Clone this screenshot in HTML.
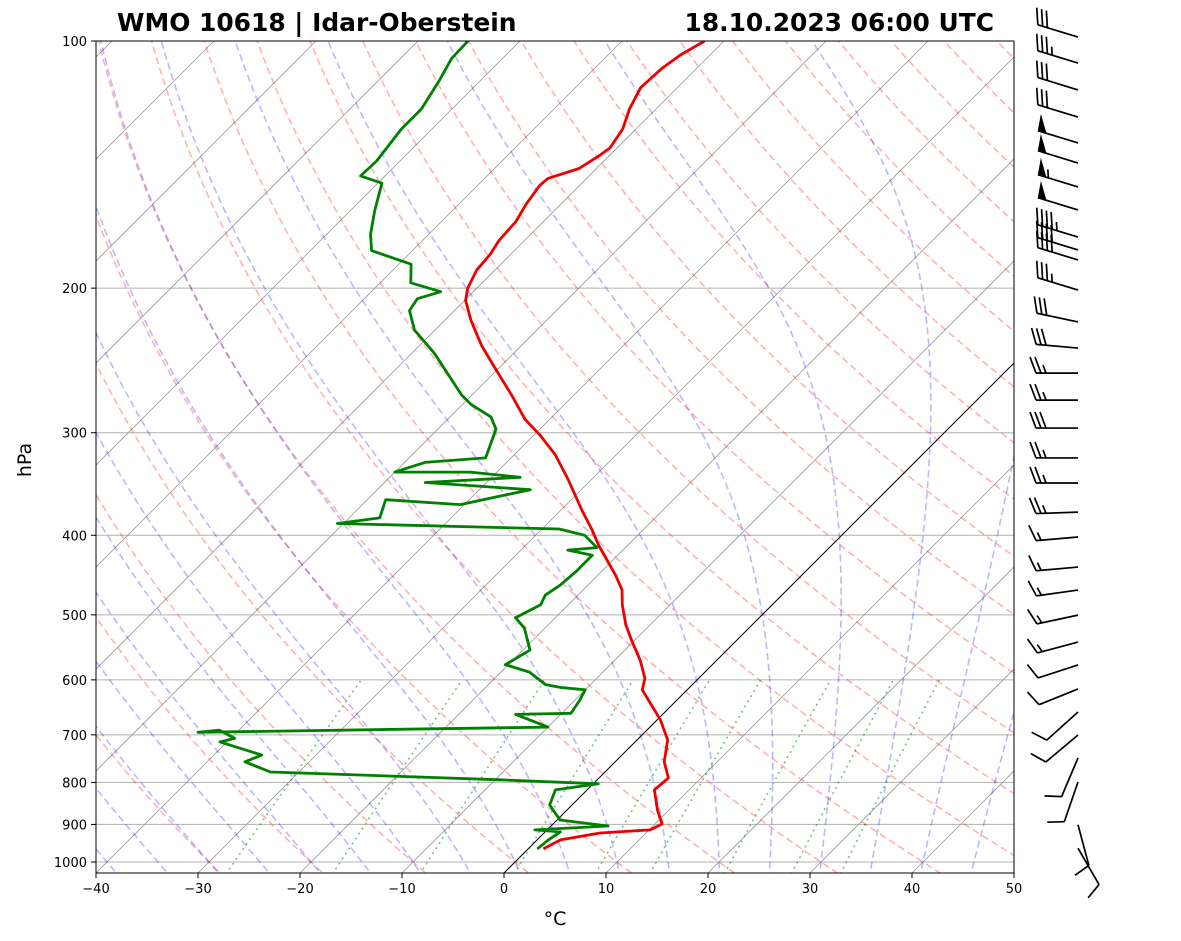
<!DOCTYPE html>
<html><head><meta charset="utf-8">
<style>
body{margin:0;background:#fff;}
svg{display:block;font-family:"DejaVu Sans","Liberation Sans",sans-serif;}
</style></head>
<body>
<svg id="chart" width="1181" height="941" viewBox="0 0 1181 941" xmlns="http://www.w3.org/2000/svg">
<defs><clipPath id="plotclip"><rect x="96" y="41" width="918" height="832"/></clipPath></defs>
<rect x="0" y="0" width="1181" height="941" fill="#fff"/>
<text x="117" y="31" font-size="24.9" font-weight="bold">WMO 10618 | Idar-Oberstein</text>
<text x="994" y="31" font-size="24.9" font-weight="bold" text-anchor="end">18.10.2023 06:00 UTC</text>
<g id="bg" clip-path="url(#plotclip)"></g>
<g id="series" clip-path="url(#plotclip)"></g>
<rect x="96" y="41" width="918" height="832" fill="none" stroke="#000" stroke-width="1"/>
<g id="axes"></g>
<g id="barbs"></g>
<text x="555" y="925" font-size="19" text-anchor="middle">°C</text>
<text x="0" y="0" font-size="19" text-anchor="middle" transform="translate(31,460) rotate(-90)">hPa</text>
</svg>
<script>
// ---- data ----
const tempP = [964,940,922,914,899,865,817,790,755,710,671,644,617,597,568,537,514,486,466,447,411,394,373,342,319,302,289,270,252,235,219,207,200,190,182,175,166,158,150,147,143,138,135,128,121,114,108,104,100];
const tempT = [1.5,2.3,5.5,10.1,10.7,8.9,6.6,6.8,4.8,3.0,0.3,-2.0,-4.4,-5.3,-7.5,-10.3,-12.4,-14.7,-16.2,-18.3,-22.9,-25,-27.9,-32.3,-36,-39.4,-42.4,-46.1,-50,-53.9,-57.4,-59.9,-60.9,-61.8,-62,-62.5,-62.7,-63.4,-63.9,-63.8,-61.7,-61,-60.7,-61.3,-62.6,-63.6,-63.4,-62.9,-61.9];
const dewP = [964,940,919,914,904,889,852,817,803,794,777,755,741,714,707,691,695,685,661,659,636,617,613,608,587,575,552,519,504,486,473,460,443,423,417,414,400,393,387,381,362,367,352,345,340,335,335,326,322,297,287,277,270,240,225,213,206,202,197,187,180,172,161,149,146,140,128,121,112,105,100];
const dewT = [0.9,1.1,1.5,-1.2,5.6,0.3,-2.2,-3.1,0.5,-9.5,-32.8,-36.3,-35.3,-40.7,-39.6,-41.9,-43.8,-10,-14.4,-9.1,-9.5,-10,-12.6,-14.4,-17.2,-20.3,-19.3,-22,-23.9,-22.7,-23.2,-22.7,-22.5,-22.5,-25.4,-22.8,-25.2,-28.3,-50.6,-47,-48.2,-40.4,-35,-46,-37.2,-42.6,-50,-48,-42.5,-44.3,-46,-49.2,-51,-57.8,-62,-64.4,-64.8,-63.2,-67,-68.8,-74,-75.7,-77.6,-79.6,-82.4,-82.3,-83,-83,-84,-85,-85.1];
const barbP = [98.9,106.4,114.7,123.8,133.1,140.8,150.6,160.6,173.3,179.7,184.8,201.1,219.9,236.6,253.8,273.8,296.1,322,345.4,374.8,401.9,437.3,466.4,500.4,539.6,575.4,615.5,656.6,700.3,746.9,799,901,962];
const barbSpd = [30,35,30,30,50,50,55,50,45,40,40,35,30,30,25,25,30,25,25,25,15,15,15,15,15,10,10,10,10,10,10,10,10];
const barbDir = [287,287,287,287,287,287,287,287,287,287,287,287,282,275,270,270,270,270,270,268,265,265,262,258,255,252,248,228,230,203,199,165,150];
const xTicks = [-40,-30,-20,-10,0,10,20,30,40,50];
const yTicks = [100,200,300,400,500,600,700,800,900,1000];

// ---- scales ----
const X0=96,X1=1014,Y0=41,YB=873;
const pxPerC=(X1-X0)/90;
function yOf(p){return Y0+(Math.log10(p)-2)*821;}
function xOf(T,p){const y=yOf(p);return 504+T*pxPerC+(YB-y);}
const NS="http://www.w3.org/2000/svg";
function mk(tag,attrs,parent){const e=document.createElementNS(NS,tag);for(const k in attrs)e.setAttribute(k,attrs[k]);parent.appendChild(e);return e;}
const bg=document.getElementById('bg'),ser=document.getElementById('series'),ax=document.getElementById('axes'),bb=document.getElementById('barbs');
function path(pts){return pts.map((q,i)=>(i?'L':'M')+q[0].toFixed(1)+','+q[1].toFixed(1)).join('');}
const pgrid=[];for(let p=1050;p>=99;p-=5)pgrid.push(p);

for(const p of yTicks){
  const l=mk('line',{x1:X0,x2:X1,y1:yOf(p),y2:yOf(p),stroke:'#b0b0b0','stroke-width':1},bg);
  
  
}
for(let T=-150;T<=50;T+=10){
  const l=mk('path',{d:path([[xOf(T,1050),yOf(1050)],[xOf(T,99),yOf(99)]]),stroke:T===0?'#000':'#999','stroke-width':T===0?1:0.8,fill:'none'},bg);
  
  
}
for(let t0=-30;t0<=200;t0+=10){
  const pts=pgrid.map(p=>[xOf((t0+273.15)*Math.pow(p/1000,0.2857)-273.15,p),yOf(p)]);
  const l=mk('path',{d:path(pts),stroke:'rgba(255,0,0,0.3)','stroke-width':1.6,'stroke-dasharray':'7,4',fill:'none'},bg);
  
  
}
function es(Tc){return 6.112*Math.exp(17.67*Tc/(Tc+243.5));}
function moistLapse(Tk,p){const Rd=287.04,cp=1005.7,Lv=2.501e6,eps=0.622;const rs=eps*es(Tk-273.15)/(p-es(Tk-273.15));
  return (Rd*Tk+Lv*rs)/(cp+Lv*Lv*rs*eps/(Rd*Tk*Tk))/p;}
for(let t0=-40;t0<=50;t0+=5){
  let Tk=t0+273.15,p=1000;const up=[],dn=[];
  up.push([xOf(Tk-273.15,p),yOf(p)]);
  while(p>100){const dp=-2;Tk+=moistLapse(Tk,p)*dp;p+=dp;up.push([xOf(Tk-273.15,p),yOf(p)]);}
  Tk=t0+273.15;p=1000;
  while(p<1050){const dp=2;Tk+=moistLapse(Tk,p)*dp;p+=dp;dn.push([xOf(Tk-273.15,p),yOf(p)]);}
  const l=mk('path',{d:path(dn.reverse().concat(up)),stroke:'rgba(0,0,255,0.28)','stroke-width':1.6,'stroke-dasharray':'7,4',fill:'none'},bg);
  
  
}
for(const w of [0.0004,0.001,0.002,0.004,0.007,0.01,0.016,0.024,0.032]){
  const pts=[];for(let p=1050;p>=600;p-=10){const e=p*w/(0.622+w);const a=Math.log(e/6.112);pts.push([xOf(243.5*a/(17.67-a),p),yOf(p)]);}
  const l=mk('path',{d:path(pts),stroke:'rgba(0,128,0,0.5)','stroke-width':1.6,'stroke-dasharray':'2,4',fill:'none'},bg);
  
  
}
const tl=mk('path',{d:path(tempP.map((p,i)=>[xOf(tempT[i],p),yOf(p)])),stroke:'#e00',fill:'none','stroke-width':2.8,'stroke-linejoin':'round'},ser);


const dl=mk('path',{d:path(dewP.map((p,i)=>[xOf(dewT[i],p),yOf(p)])),stroke:'#008000',fill:'none','stroke-width':2.8,'stroke-linejoin':'round'},ser);



for(const t of xTicks){
  const x=X0+(t+40)*pxPerC;
  mk('line',{x1:x,x2:x,y1:YB,y2:YB+5,stroke:'#000'},ax);
  const tx=mk('text',{x:x,y:YB+20,'font-size':13,'text-anchor':'middle'},ax);
  tx.textContent=(t<0?'\u2212'+(-t):t);
  
  
}
for(const p of yTicks){
  const y=yOf(p);
  mk('line',{x1:X0-5,x2:X0,y1:y,y2:y,stroke:'#000'},ax);
  const tx=mk('text',{x:X0-9,y:y+5,'font-size':13,'text-anchor':'end'},ax);
  tx.textContent=p;
  
  
}
barbP.forEach((p,i)=>{
  const sx=1078, sy=yOf(p);
  const d=barbDir[i]*Math.PI/180;
  const ux=Math.sin(d), uy=-Math.cos(d);
  const L=42;
  const g=mk('g',{stroke:'#000','stroke-width':1.7,fill:'#000'},bb);
  
  
  const tx=sx+ux*L, ty=sy+uy*L;
  mk('line',{x1:sx,y1:sy,x2:tx,y2:ty},g);
  const px=-uy, py=ux;
  let s=barbSpd[i], pos=0;
  while(s>=50){const bx=tx-ux*pos,by=ty-uy*pos;
    mk('polygon',{points:`${bx},${by} ${bx+px*17+ux*2},${by+py*17+uy*2} ${bx-ux*9},${by-uy*9}`,stroke:'none'},g);pos+=11;s-=50;}
  while(s>=10){const bx=tx-ux*pos,by=ty-uy*pos;
    mk('line',{x1:bx,y1:by,x2:bx+px*16+ux*6,y2:by+py*16+uy*6},g);pos+=5;s-=10;}
  if(s>=5){if(pos===0)pos=5;const bx=tx-ux*pos,by=ty-uy*pos;
    mk('line',{x1:bx,y1:by,x2:bx+px*8+ux*3,y2:by+py*8+uy*3},g);}
});
</script>
</body></html>
